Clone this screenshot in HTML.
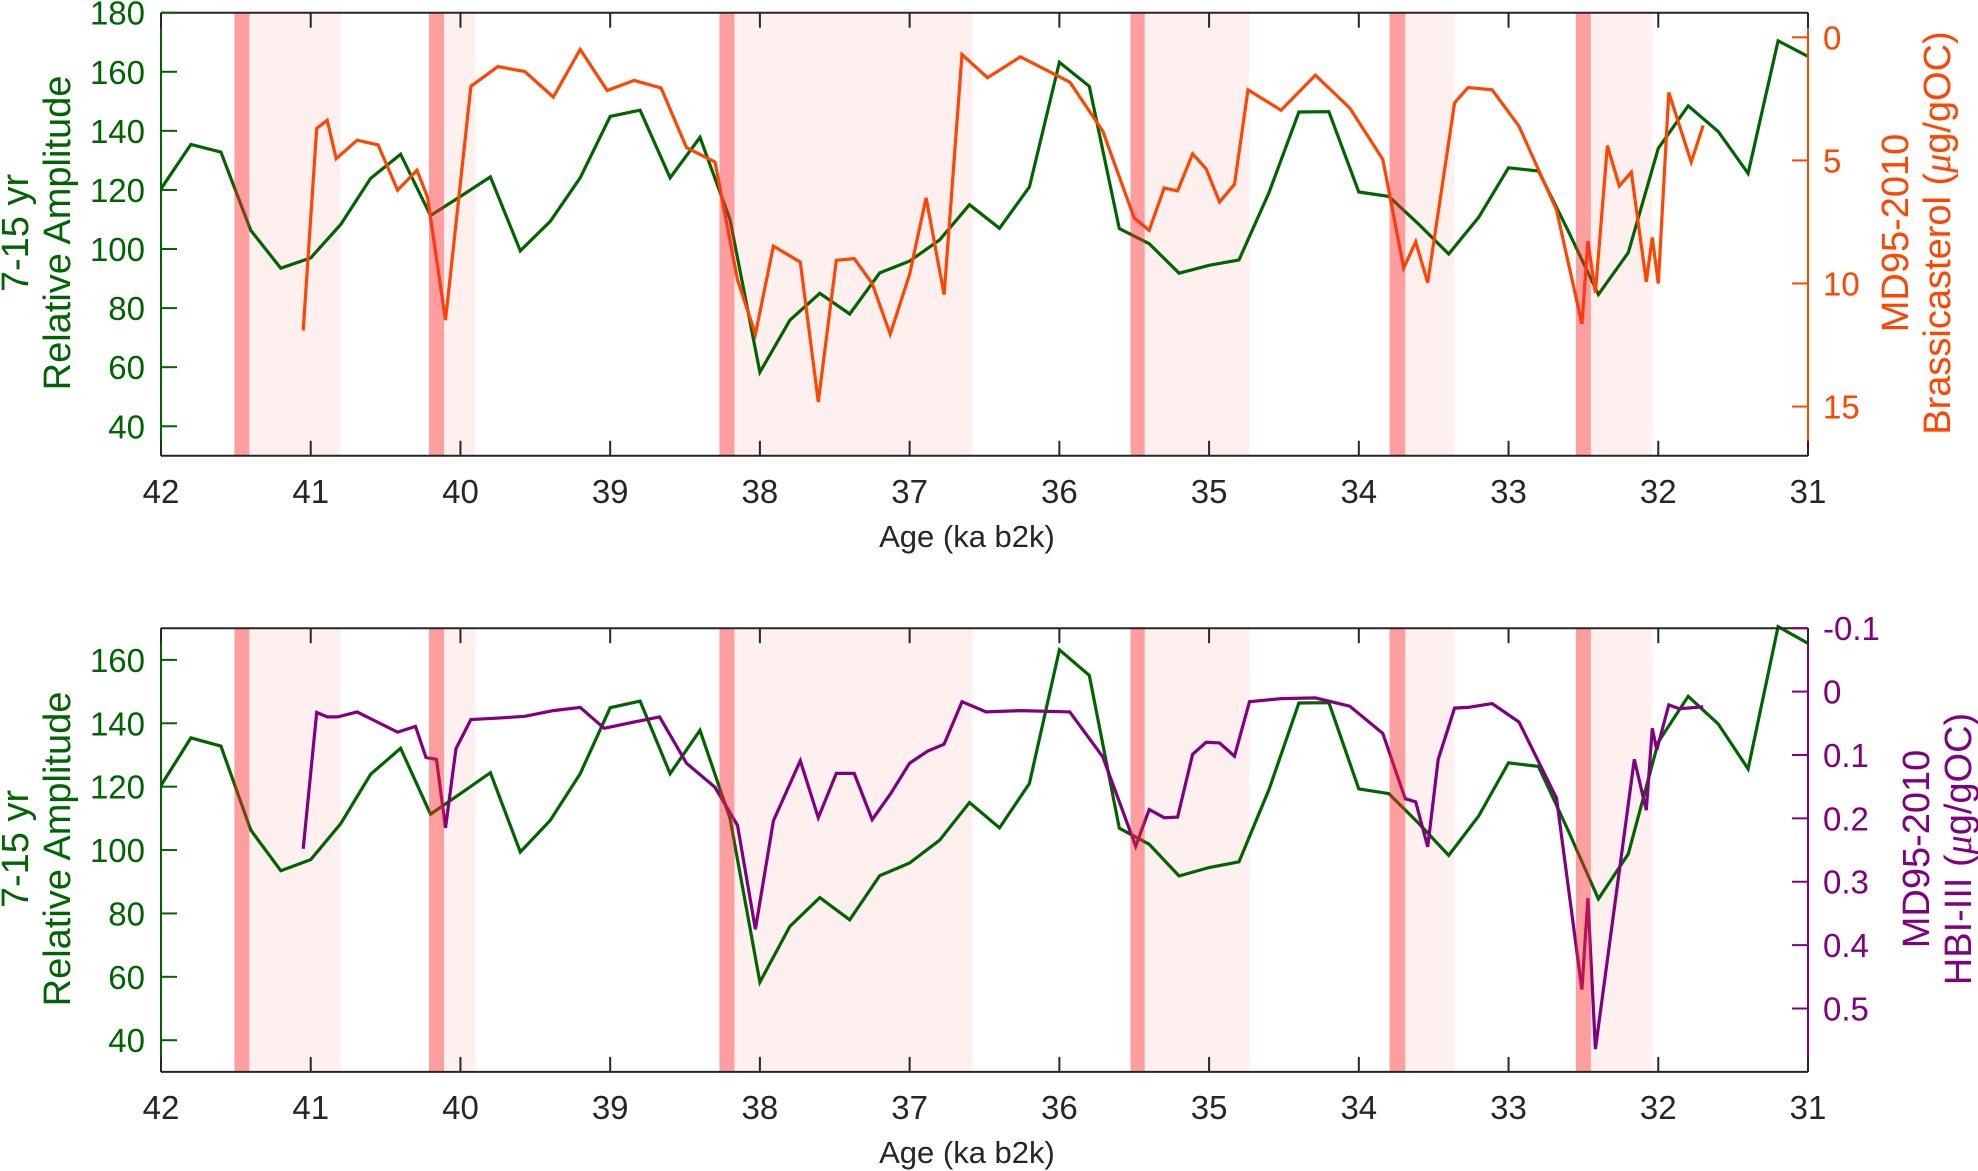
<!DOCTYPE html>
<html><head><meta charset="utf-8">
<style>
html,body{margin:0;padding:0;background:#fff;}
svg{display:block;font-family:"Liberation Sans",Arial,sans-serif;}
</style></head>
<body>
<svg id="chart" width="1978" height="1171" viewBox="0 0 1978 1171" xmlns="http://www.w3.org/2000/svg"></svg>
<script>
// ---- data ----
const greenAges = [42,41.8,41.6,41.4,41.2,41,40.8,40.6,40.4,40.2,40,39.8,39.6,39.4,39.2,39,38.8,38.6,38.4,38.2,38,37.8,37.6,37.4,37.2,37,36.8,36.6,36.4,36.2,36,35.8,35.6,35.4,35.2,35,34.8,34.6,34.4,34.2,34,33.8,33.6,33.4,33.2,33,32.8,32.6,32.4,32.2,32,31.8,31.6,31.4,31.2,31];
const greenValues = [120.4,135.4,132.8,106.3,93.5,97,108.3,123.9,132.1,111.3,117.8,124.4,99.4,109.4,124.1,144.9,147,124.1,137.8,110,58.3,75.9,85,78,91.9,95.9,103.1,115,107,121,163.2,155.1,106.9,101.8,91.8,94.5,96.3,119.1,146.4,146.5,119.3,117.8,108.4,98.3,110.7,127.5,126.4,106,84.6,98.8,134.1,148.5,139.8,125.6,170.5,165.2];
const brassAges = [41.05,40.96,40.89,40.83,40.69,40.55,40.42,40.29,40.22,40.1,39.93,39.75,39.57,39.38,39.2,39.02,38.84,38.66,38.49,38.3,38.15,38.03,37.91,37.73,37.61,37.49,37.37,37.25,37.13,37,36.89,36.77,36.65,36.48,36.26,35.93,35.71,35.5,35.4,35.3,35.21,35.11,35.02,34.93,34.83,34.74,34.52,34.29,34.06,33.84,33.7,33.62,33.54,33.36,33.27,33.11,32.93,32.68,32.51,32.47,32.42,32.34,32.26,32.18,32.08,32.04,32,31.93,31.78,31.7];
const brassValues = [11.91,3.7,3.37,4.93,4.18,4.37,6.21,5.4,6.49,11.49,1.99,1.19,1.39,2.43,0.49,2.16,1.75,2.06,4.48,5.07,9.85,12.06,8.48,9.13,14.81,9.06,8.99,10,12.06,9.63,6.52,10.45,0.7,1.64,0.79,1.82,3.81,7.34,7.84,6.12,6.24,4.73,5.34,6.69,5.97,2.13,2.96,1.54,2.87,4.96,9.37,8.31,9.97,2.66,2.04,2.13,3.61,7.01,11.64,8.28,10.37,4.4,6.04,5.48,9.93,8.13,10,2.24,5.07,3.58];
const hbiAges = [41.05,40.96,40.89,40.82,40.69,40.42,40.3,40.23,40.16,40.1,40.03,39.93,39.76,39.57,39.38,39.2,39.04,38.84,38.67,38.49,38.3,38.15,38.03,37.91,37.73,37.61,37.49,37.37,37.25,37.13,37,36.88,36.77,36.65,36.49,36.26,35.93,35.71,35.49,35.4,35.3,35.21,35.11,35.02,34.93,34.83,34.73,34.52,34.29,34.06,33.84,33.69,33.62,33.54,33.47,33.36,33.27,33.11,32.93,32.68,32.51,32.47,32.42,32.16,32.08,32.04,32.01,31.93,31.86,31.7];
const hbiValues = [0.248,0.033,0.04,0.04,0.032,0.064,0.055,0.104,0.107,0.215,0.09,0.044,0.042,0.039,0.03,0.025,0.058,0.048,0.04,0.113,0.151,0.211,0.375,0.204,0.109,0.199,0.129,0.129,0.202,0.162,0.113,0.094,0.083,0.016,0.032,0.03,0.032,0.103,0.244,0.186,0.199,0.198,0.099,0.08,0.081,0.102,0.016,0.011,0.01,0.023,0.066,0.169,0.174,0.245,0.107,0.026,0.025,0.019,0.048,0.168,0.47,0.326,0.564,0.107,0.187,0.058,0.092,0.021,0.027,0.024];
const darkBandStarts = [41.51,40.21,38.27,35.525,33.795,32.55];
const darkBandEnds   = [41.41,40.11,38.17,35.43,33.69,32.45];
const lightBandEnds  = [40.80,39.90,36.58,34.73,33.36,32.04];
const xTicks = [42,41,40,39,38,37,36,35,34,33,32,31];
const topLeftTicks = [40,60,80,100,120,140,160,180];
const topRightTicks = [0,5,10,15];
const botLeftTicks = [40,60,80,100,120,140,160];
const botRightTicks = [-0.1,0,0.1,0.2,0.3,0.4,0.5];
const botRightLabels = ["-0.1","0","0.1","0.2","0.3","0.4","0.5"];

// ---- layout ----
const NS = "http://www.w3.org/2000/svg";
const svg = document.getElementById('chart');
const X0 = 161, X1 = 1808;
const GREEN = "#006400", ORANGE = "#FF4500", PURPLE = "#800080", AX = "#262626";
const TICKFS = 33, TITLEFS = 38;
function xScale(a){ return X0 + (42 - a) / 11 * (X1 - X0); }
function mk(tag, attrs, parent){
  const e = document.createElementNS(NS, tag);
  for (const k in attrs) e.setAttribute(k, attrs[k]);
  (parent || svg).appendChild(e);
  return e;
}
function linScale(d0, d1, r0, r1){ return v => r0 + (v - d0) / (d1 - d0) * (r1 - r0); }

function panel(cfg){
  const g = mk('g', {});
  
  
  const T = cfg.top, B = cfg.bottom;
  const yL = linScale(cfg.lmin, cfg.lmax, B, T);
  const yR = linScale(cfg.rmin, cfg.rmax, T, B);
  for (let i = 0; i < darkBandStarts.length; i++){
    const r = mk('rect', {x: xScale(darkBandEnds[i]), y: T, width: xScale(lightBandEnds[i]) - xScale(darkBandEnds[i]), height: B - T, fill: "#FFF0F0"}, g);
    
    
  }
  const gp = greenAges.map((a, i) => xScale(a).toFixed(1) + "," + yL(greenValues[i]).toFixed(1)).join(" ");
  const gl = mk('polyline', {points: gp, fill: "none", stroke: GREEN, "stroke-width": 3.2}, g);
  
  
  const sp = cfg.ages.map((a, i) => xScale(a).toFixed(1) + "," + yR(cfg.vals[i]).toFixed(1)).join(" ");
  const sl = mk('polyline', {points: sp, fill: "none", stroke: cfg.color, "stroke-width": 3.2}, g);
  
  
  for (let i = 0; i < darkBandStarts.length; i++){
    const r = mk('rect', {x: xScale(darkBandStarts[i]), y: T, width: xScale(darkBandEnds[i]) - xScale(darkBandStarts[i]), height: B - T, fill: "rgba(255,40,40,0.45)"}, g);
    
    
  }
  mk('line', {x1: X0, y1: T, x2: X1, y2: T, stroke: AX, "stroke-width": 2}, g);
  mk('line', {x1: X0, y1: B, x2: X1, y2: B, stroke: AX, "stroke-width": 2}, g);
  mk('line', {x1: X0, y1: T, x2: X0, y2: B, stroke: GREEN, "stroke-width": 2}, g);
  mk('line', {x1: X1, y1: T, x2: X1, y2: B, stroke: cfg.color, "stroke-width": 2}, g);
  xTicks.forEach(t => {
    const x = xScale(t);
    mk('line', {x1: x, y1: B, x2: x, y2: B - 15, stroke: AX, "stroke-width": 2}, g);
    mk('line', {x1: x, y1: T, x2: x, y2: T + 15, stroke: AX, "stroke-width": 2}, g);
    const tx = mk('text', {x: x, y: cfg.xLabelY, "text-anchor": "middle", "font-size": TICKFS, fill: AX}, g);
    tx.textContent = t;
    
    
  });
  const xt = mk('text', {x: 967, y: cfg.xTitleY, "text-anchor": "middle", "font-size": 31, fill: AX}, g);
  xt.textContent = "Age (ka b2k)";
  
  
  cfg.lticks.forEach(t => {
    const y = yL(t);
    mk('line', {x1: X0, y1: y, x2: X0 + 16, y2: y, stroke: GREEN, "stroke-width": 2}, g);
    const tx = mk('text', {x: 145, y: y + 12, "text-anchor": "end", "font-size": TICKFS, fill: GREEN}, g);
    tx.textContent = t;
    
    
  });
  cfg.rticks.forEach((t, i) => {
    const y = yR(t);
    mk('line', {x1: X1, y1: y, x2: X1 - 16, y2: y, stroke: cfg.color, "stroke-width": 2}, g);
    const tx = mk('text', {x: 1823, y: y + 12, "text-anchor": "start", "font-size": TICKFS, fill: cfg.color}, g);
    tx.textContent = cfg.rlabels[i];
    
    
  });
  const lc = cfg.titleY;
  const t1 = mk('text', {x: 0, y: 0, "text-anchor": "middle", "font-size": TITLEFS, fill: GREEN, transform: `translate(28,${lc}) rotate(-90)`}, g);
  t1.textContent = "7-15 yr";
  
  
  const t2 = mk('text', {x: 0, y: 0, "text-anchor": "middle", "font-size": TITLEFS, fill: GREEN, transform: `translate(70,${lc}) rotate(-90)`}, g);
  t2.textContent = "Relative Amplitude";
  
  
  const r1 = mk('text', {x: 0, y: 0, "text-anchor": "middle", "font-size": TITLEFS, fill: cfg.color, transform: `translate(${cfg.rt1x},${lc}) rotate(-90)`}, g);
  r1.textContent = "MD95-2010";
  
  
  const r2 = mk('text', {x: 0, y: 0, "text-anchor": "middle", "font-size": TITLEFS, fill: cfg.color, transform: `translate(${cfg.rt2x},${lc}) rotate(-90)`}, g);
  r2.innerHTML = cfg.rtitle + ' (<tspan font-family="Liberation Serif" font-style="italic">μ</tspan>g/gOC)';
  
  
}

panel({name: 'top-panel', top: 12.7, bottom: 455.8, lmin: 30, lmax: 180, rmin: -1, rmax: 17,
  ages: brassAges, vals: brassValues, color: ORANGE, seriesName: 'brassicasterol-line',
  lticks: topLeftTicks, rticks: topRightTicks, rlabels: topRightTicks.map(String),
  xLabelY: 503, xTitleY: 547, titleY: 233, rt1x: 1908, rt2x: 1950, rtitle: "Brassicasterol"});
panel({name: 'bottom-panel', top: 628.2, bottom: 1071.9, lmin: 30, lmax: 170, rmin: -0.1, rmax: 0.6,
  ages: hbiAges, vals: hbiValues, color: PURPLE, seriesName: 'hbi-iii-line',
  lticks: botLeftTicks, rticks: botRightTicks, rlabels: botRightLabels,
  xLabelY: 1119, xTitleY: 1163, titleY: 849, rt1x: 1929, rt2x: 1971, rtitle: "HBI-III"});
</script>
</body></html>
